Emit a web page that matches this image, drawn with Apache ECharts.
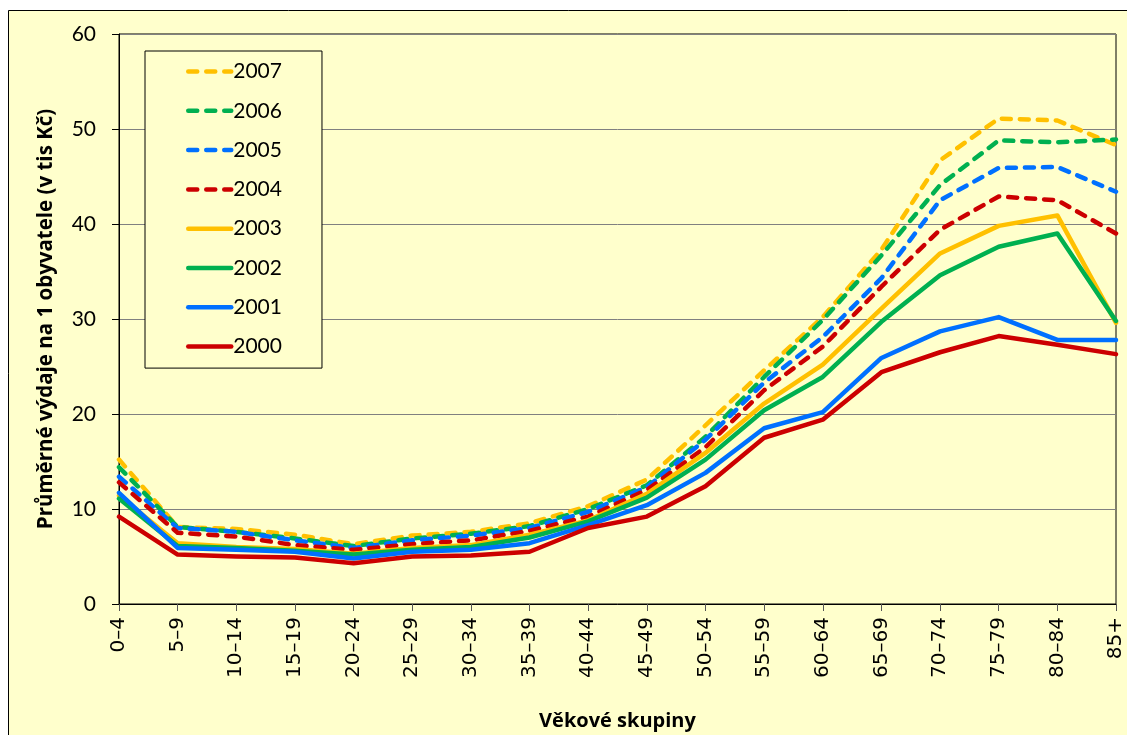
<!DOCTYPE html>
<html>
<head>
<meta charset="utf-8">
<script src="https://cdn.jsdelivr.net/npm/echarts@6/dist/echarts.min.js"></script>
<style>
  html, body { margin: 0; padding: 0; background: #ffffff; }
  #chart { width: 1127px; height: 735px; }
</style>
</head>
<body>
<div id="chart"></div>
<script>
// Age groups on the horizontal axis
const ageGroups = ['0–4', '5–9', '10–14', '15–19', '20–24', '25–29', '30–34', '35–39', '40–44',
  '45–49', '50–54', '55–59', '60–64', '65–69', '70–74', '75–79', '80–84', '85+'];

// Average expenditure per inhabitant (thousand CZK) by year
const y2007 = [15.2, 8.1, 7.9, 7.3, 6.3, 7.2, 7.6, 8.5, 10.3, 13.1, 18.8, 24.6, 30.2, 37.3, 46.7, 51.1, 50.9, 48.3];
const y2006 = [14.4, 8.1, 7.6, 6.9, 6.1, 6.9, 7.4, 8.2, 10.0, 12.5, 17.6, 23.9, 29.9, 36.7, 44.1, 48.8, 48.6, 48.9];
const y2005 = [13.4, 8.0, 7.6, 6.7, 5.9, 6.7, 7.2, 8.0, 9.7, 12.3, 17.3, 23.3, 28.1, 34.3, 42.5, 45.9, 46.0, 43.4];
const y2004 = [12.8, 7.5, 7.1, 6.2, 5.7, 6.3, 6.7, 7.7, 9.2, 12.0, 16.5, 22.5, 27.1, 33.4, 39.4, 42.9, 42.5, 39.0];
const y2003 = [11.4, 6.4, 6.0, 5.8, 5.3, 5.9, 6.2, 7.3, 8.8, 11.6, 15.9, 21.1, 25.2, 31.1, 36.9, 39.8, 40.9, 29.6];
const y2002 = [11.1, 6.1, 5.9, 5.6, 5.2, 5.7, 6.0, 7.0, 8.7, 11.2, 15.2, 20.4, 23.9, 29.7, 34.6, 37.6, 39.0, 29.8];
const y2001 = [11.7, 5.9, 5.7, 5.5, 4.8, 5.5, 5.7, 6.4, 8.3, 10.4, 13.8, 18.5, 20.2, 25.9, 28.7, 30.2, 27.8, 27.8];
const y2000 = [9.2, 5.2, 5.0, 4.9, 4.3, 5.0, 5.1, 5.5, 8.0, 9.2, 12.4, 17.5, 19.4, 24.4, 26.5, 28.2, 27.3, 26.3];

const yearNames = ['2007', '2006', '2005', '2004', '2003', '2002', '2001', '2000'];
const yearValues = [y2007, y2006, y2005, y2004, y2003, y2002, y2001, y2000];
const yearColors = ['#FFC000', '#00B050', '#0070FF', '#CC0000', '#FFC000', '#00B050', '#0070FF', '#CC0000'];
const yearDashed = [true, true, true, true, false, false, false, false];

const series = yearNames.map((name, i) => ({
  name: name,
  type: 'line',
  data: yearValues[i],
  symbol: 'none',
  smooth: false,
  z: 2 + i,
  lineStyle: {
    color: yearColors[i],
    width: 4.5,
    type: yearDashed[i] ? [9, 9] : 'solid',
    cap: 'round',
    join: 'round'
  },
  itemStyle: { color: yearColors[i] },
  emphasis: { disabled: true }
}));

const chart = echarts.init(document.getElementById('chart'), null, { renderer: 'canvas' });

chart.setOption({
  animation: false,
  backgroundColor: '#ffffff',
  graphic: [{
    type: 'rect',
    z: -10,
    silent: true,
    shape: { x: 8.5, y: 10.5, width: 1200, height: 800 },
    style: { fill: '#FFFFCC', stroke: '#000000', lineWidth: 1 }
  }],
  grid: {
    left: 119, top: 34, right: 11, bottom: 131,
    outerBoundsMode: 'none',
    containLabel: false,
    show: true,
    backgroundColor: '#FFFFCC',
    borderColor: '#000000',
    borderWidth: 1
  },
  legend: {
    orient: 'vertical',
    left: 145, top: 51,
    padding: [10, 40, 11, 41],
    itemWidth: 43,
    itemHeight: 20,
    itemGap: 18.3,
    backgroundColor: '#FFFFCC',
    borderColor: '#000000',
    borderWidth: 1,
    borderRadius: 0,
    selectedMode: false,
    itemStyle: { opacity: 0 },
    lineStyle: { width: 4.5, cap: 'round' },
    textStyle: { fontFamily: 'Lato', fontSize: 21, color: '#000000', padding: [0, 0, 0, -3], lineHeight: 20 },
    data: yearNames
  },
  xAxis: {
    type: 'category',
    data: ageGroups,
    boundaryGap: false,
    name: 'Věkové skupiny',
    nameLocation: 'middle',
    nameGap: 107,
    nameTextStyle: { fontFamily: 'Open Sans', fontWeight: 'bold', fontSize: 20, color: '#000000' },
    axisLine: { show: true, lineStyle: { color: '#000000', width: 1 } },
    axisTick: { show: true, length: 7, alignWithLabel: true, lineStyle: { color: '#555555' } },
    axisLabel: {
      rotate: 90,
      margin: 13,
      interval: 0,
      fontFamily: 'DejaVu Sans',
      fontSize: 20,
      color: '#000000'
    },
    splitLine: { show: false }
  },
  yAxis: {
    type: 'value',
    min: 0, max: 60, interval: 10,
    name: 'Průměrné výdaje na 1 obyvatele (v tis Kč)',
    nameLocation: 'middle',
    nameGap: 62,
    nameTextStyle: { fontFamily: 'Open Sans', fontWeight: 'bold', fontSize: 20.5, color: '#000000' },
    axisLine: { show: true, lineStyle: { color: '#000000', width: 1 } },
    axisTick: { show: true, length: 7, lineStyle: { color: '#000000' } },
    axisLabel: { margin: 23, fontFamily: 'Lato', fontSize: 21, color: '#000000' },
    splitLine: { show: true, lineStyle: { color: '#808080', width: 1 } }
  },
  series: series
});
</script>
</body>
</html>
